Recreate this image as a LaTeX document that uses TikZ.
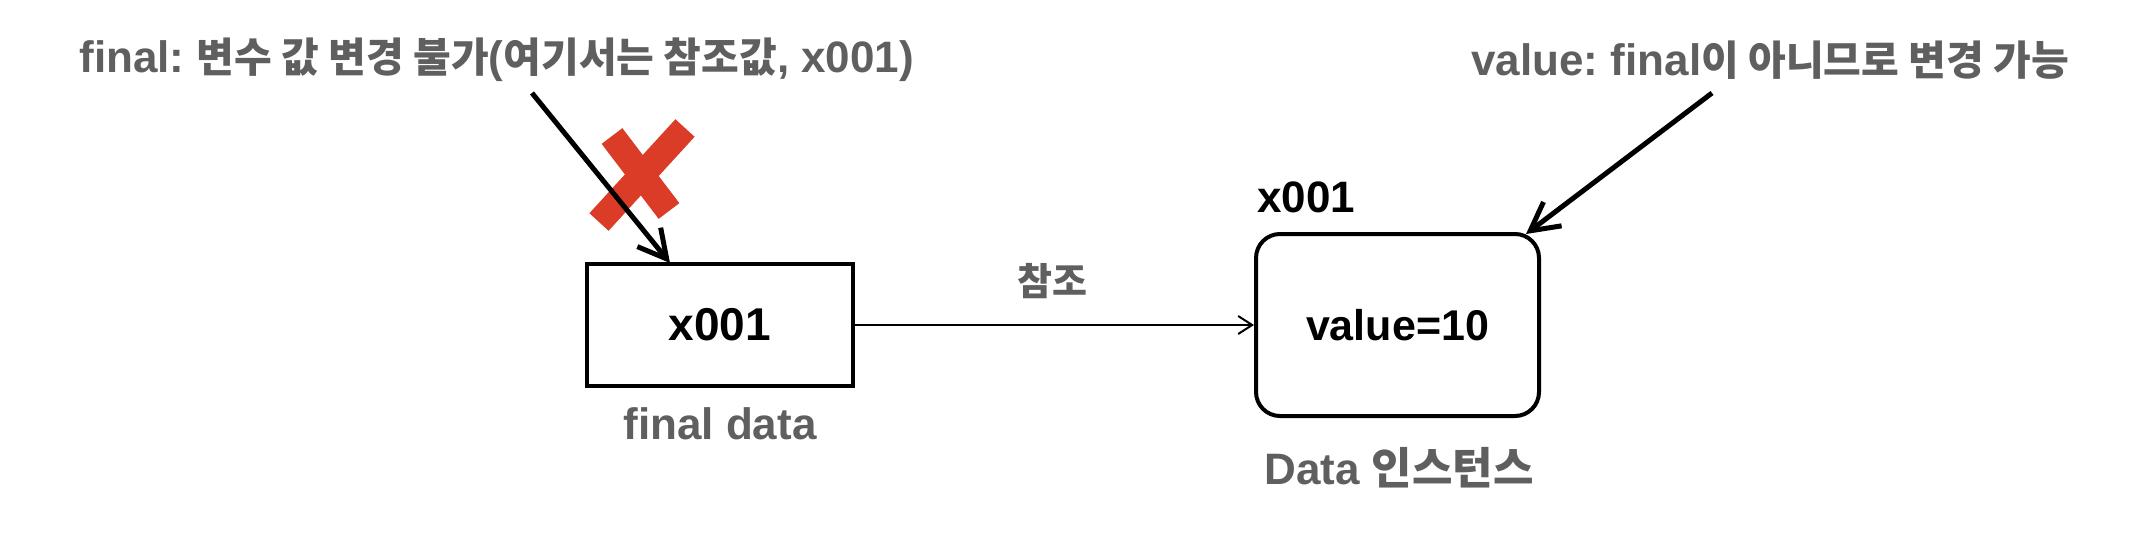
\documentclass[tikz,border=0pt]{standalone}
\usepackage{fontspec}
\setmainfont{Liberation Sans}
\newfontfamily\kr{Noto Sans CJK KR}
\newcommand{\krt}[1]{{\kr\fontsize{20.5}{24}\selectfont #1}}
\usetikzlibrary{arrows.meta,calc}
\definecolor{greytxt}{HTML}{5F5F5F}
\definecolor{xred}{HTML}{DB3C27}
\frenchspacing
\begin{document}
\frenchspacing
\begin{tikzpicture}[x=0.5pt,y=-0.5pt,
  title/.style={font=\bfseries\fontsize{22}{26}\selectfont, text=greytxt, inner sep=0pt},
  caption/.style={font=\bfseries\fontsize{22}{26}\selectfont, text=greytxt, inner sep=0pt},
  blacktxt/.style={font=\bfseries\fontsize{22}{26}\selectfont, text=black, inner sep=0pt},
  reflbl/.style={font=\kr\bfseries\fontsize{19}{22}\selectfont, text=greytxt, inner sep=0pt},
  refbox/.style={draw=black, line width=1.75pt, minimum width=133pt, minimum height=61pt, inner sep=0pt, font=\bfseries\fontsize{23}{26}\selectfont},
  objbox/.style={draw=black, line width=2pt, rounded corners=12pt, minimum width=141.5pt, minimum height=91pt, inner sep=0pt, font=\bfseries\fontsize{21.5}{26}\selectfont},
  notearrow/.style={line width=2.5pt, -{Straight Barb[length=14pt,width=15pt]}},
  refarrow/.style={line width=1pt, -{Straight Barb[length=7pt,width=9pt]}},
  xstroke/.style={xred, line width=13pt, line cap=butt}
]
\useasboundingbox (0,0) rectangle (2140,552);

% boxes
\node[refbox] (fbox) at (720,325) {x001};
\node[objbox] (dbox) at (1397.5,325) {value=10};

% texts
\node[title, anchor=west] (t1) at (79,60) {final: \krt{변수 값 변경 불가}(\krt{여기서는 참조값}, x001)};
\node[title, anchor=west] (t2) at (1471,60) {value: final\krt{이 아니므로 변경 가능}};
\node[caption] (c1) at (720,424) {final data};
\node[caption] (c2) at (1399,468) {Data {\kr 인스턴스}};
\node[blacktxt, anchor=base west] (addr) at (1257,212) {x001};
\node[reflbl] (ref) at (1052,281) {참조};

% red X
\draw[xstroke] (612,136) -- (669,211);
\draw[xstroke] (685,128) -- (599,222);

% arrows
\coordinate (fs) at (532,93);
\coordinate (ft) at (670,263);
\draw[notearrow] (fs) -- (ft);
\coordinate (vs) at (1712,93);
\coordinate (vt) at (1526,234);
\draw[notearrow] (vs) -- (vt);
\draw[refarrow] (fbox.east) -- (dbox.west);
\end{tikzpicture}
\end{document}
